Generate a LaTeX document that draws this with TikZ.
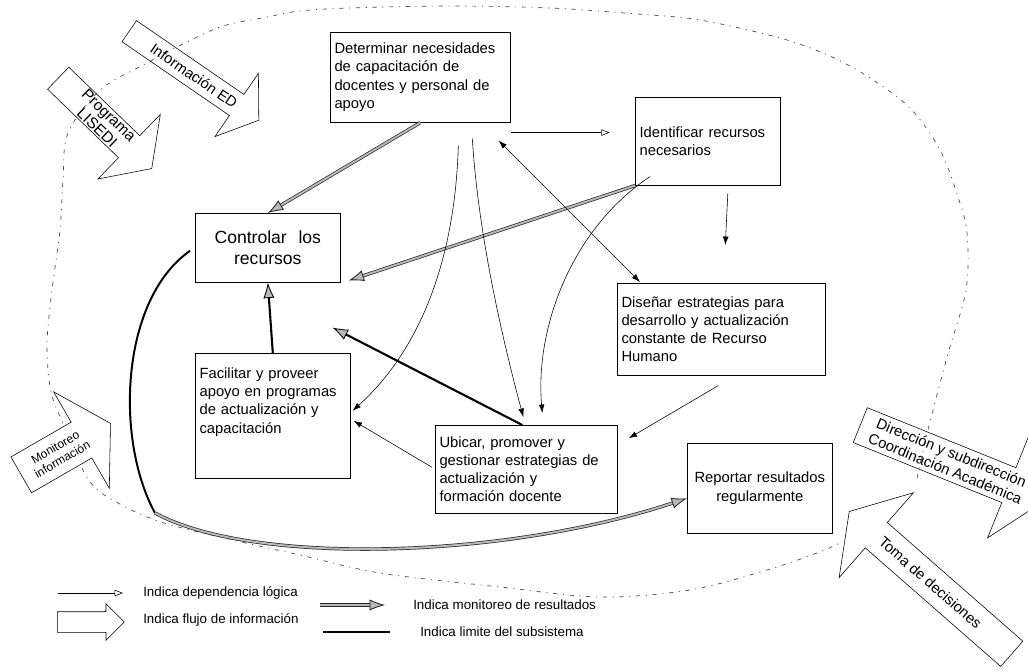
\documentclass[tikz,border=0pt]{standalone}
\usepackage{fontspec}
\setmainfont{Liberation Sans}
\usetikzlibrary{arrows.meta,shapes.arrows,calc}
\newcommand{\cajafont}{\fontsize{10.5}{13}\selectfont}
\newcommand{\grandefont}{\fontsize{12.5}{15}\selectfont}
\newcommand{\flujofont}{\fontsize{10.5}{12}\selectfont}
\newcommand{\progfont}{\fontsize{11}{12}\selectfont}
\newcommand{\monifont}{\fontsize{8.5}{10}\selectfont}
\newcommand{\leyendafont}{\fontsize{9.5}{11}\selectfont}
\tikzset{
caja/.style={draw, thin, anchor=north west, align=left, inner xsep=3pt,
	inner ysep=0pt, font=\cajafont},
dep/.style={thin, -{Triangle[open, length=6pt, width=4.5pt]}},
flecha/.style={thin, -{Latex[length=6pt, width=4pt]}},
ambas/.style={thin, {Latex[length=6pt, width=4pt]}-{Latex[length=6pt, width=4pt]}},
monitor/.style={draw=black!85, line width=0.5pt, double=gray!55,
	double distance=1.4pt, -{Latex[length=11pt, width=8pt, fill=gray!55, line width=0.6pt]}},
grueso/.style={line width=1.5pt, -{Latex[length=11pt, width=8pt, fill=gray!55, line width=0.6pt]}},
limite/.style={gray!60!black, line width=0.5pt, dash pattern=on 3pt off 4pt on 0.8pt off 4pt},
flujo/.style={single arrow, draw, thin, anchor=tail, inner xsep=0pt,
	minimum width=0pt, single arrow tip angle=110},
flujotexto/.style={font=\flujofont, align=center, inner sep=0pt},
leyenda/.style={anchor=west, font=\leyendafont, inner sep=0pt}
}

\begin{document}
\begin{tikzpicture}[x=0.025cm, y=-0.025cm]
\path[use as bounding box, clip] (0,0) rectangle (1028,672);

\draw[limite] plot[smooth, tension=0.55] coordinates {(917,478) (928,430)
	(947,357) (966,290) (967,233) (958,197) (940,150) (910,108) (870,78)
	(830,56) (780,38) (700,20) (637,14) (550,8) (450,6) (350,8) (300,11)
	(267,17) (223,26) (187,42) (147,63) (100,90) (68,133) (63,180) (60,230)
	(52,290) (47,345) (51,392) (63,423)};
\draw[limite] plot[smooth, tension=0.55] coordinates {(82,468) (100,492)
	(155,520) (233,540) (300,555) (380,573) (500,587) (600,597) (690,590)
	(767,570) (817,553) (840,543)};

\node[caja, minimum width=4.5cm, minimum height=2.25cm, text width=4.29cm] (det)
	at (330,32) {Determinar necesidades\\ de capacitación de\\ docentes y personal de\\ apoyo};
\node[caja, minimum width=3.625cm, minimum height=2.2cm, text width=3.41cm] (ide)
	at (635,97) {Identificar recursos\\ necesarios};
\node[caja, font=\grandefont, align=center, minimum width=3.625cm,
	minimum height=1.725cm, text width=3.41cm] (con)
	at (195,213) {Controlar\ \ los\\ recursos};
\node[caja, minimum width=3.875cm, minimum height=3.125cm, text width=3.66cm] (fac)
	at (195,353) {Facilitar y proveer\\ apoyo en programas\\ de actualización y\\ capacitación\\[9pt]\mbox{}};
\node[caja, minimum width=5.2cm, minimum height=2.3cm, text width=4.99cm] (dis)
	at (617,283) {Diseñar estrategias para\\ desarrollo y actualización\\ constante de Recurso\\ Humano};
\node[caja, minimum width=4.55cm, minimum height=2.2cm, text width=4.34cm] (ubi)
	at (435,425) {Ubicar, promover y\\ gestionar estrategias de\\ actualización y\\ formación docente};
\node[caja, align=center, minimum width=3.625cm, minimum height=2.25cm,
	text width=3.41cm] (rep) at (687,443) {Reportar resultados\\ regularmente};

\node[flujo, rotate=-34.5, minimum height=3.93cm, inner ysep=0.3125cm,
	single arrow head extend=0.64cm] (infoED) at (129,31) {};
\node[flujotexto, rotate=-34.5] (infoEDt) at ($(infoED.tail)!0.5!(infoED.tip)$) {Información ED};
\node[flujo, rotate=-44, minimum height=3.25cm, inner ysep=0.375cm,
	single arrow head extend=0.74cm] (prog) at (58,78) {};
\node[flujotexto, font=\progfont, rotate=-44] (progt)
	at ($(prog.tail)!0.48!(prog.tip)$) {Programa\\ LISEDI};
\node[flujo, rotate=30, minimum height=2.575cm, inner ysep=0.51cm,
	single arrow head extend=0.875cm, single arrow tip angle=118] (moni) at (21,475) {};
\node[flujotexto, font=\monifont, rotate=30] (monit)
	at ($(moni.tail)!0.42!(moni.tip)$) {Monitoreo\\ información};
\node[flujo, rotate=-22, minimum height=5cm, inner ysep=0.4625cm,
	single arrow head extend=0.95cm] (dir) at (860,425) {};
\node[flujotexto, rotate=-22] (dirt) at ($(dir.tail)!0.475!(dir.tip)$)
	{Dirección y subdirección\\ Coordinación Académica};
\node[flujo, rotate=138.8, minimum height=5.4cm, inner ysep=0.4125cm,
	single arrow head extend=0.99cm, single arrow tip angle=115] (toma) at (1012,654) {};
\node[flujotexto, rotate=-41.2] (tomat) at ($(toma.tail)!0.5!(toma.tip)$) {Toma de decisiones};

\coordinate (d1) at ($(det.south east)+(0,10)$);
\draw[dep, shorten >=18pt] (d1) -- (d1 -| ide.west);
\draw[monitor] (det.south) -- (con.north);
\draw[monitor] (ide.south west) -- ($(con.south east)+(8,-2)$);
\draw[flecha] ($(ide.south)+(20,8)$) -- ($(dis.north)+(4,-38)$);
\draw[ambas] ($(det.south east)+(-12,18)$) -- ($(dis.north west)+(23,-1)$);
\draw[flecha] ($(det.south)+(38,23)$) .. controls (455,260) and (420,350) .. ($(fac.east)+(2,-5)$);
\draw[flecha] ($(det.south)+(52,16)$) .. controls (478,230) and (500,330) .. ($(ubi.north)+(-3,-8)$);
\draw[flecha] ($(ide.south west)+(15,-9)$) .. controls (570,230) and (535,330) .. ($(ubi.north)+(16,-12)$);
\coordinate (u1) at ($(con.south east)+(-8,45)$);
\draw[grueso] ($(ubi.north)+(-4,0)$) -- (u1);
\draw[grueso] (fac.north) -- (con.south);
\draw[flecha] ($(ubi.west)+(-3,-2)$) -- ($(fac.east)+(3,5)$);
\draw[flecha] ($(dis.south)+(-3,10)$) -- ($(ubi.east)+(11,-31)$);
\coordinate (c1) at ($(con.west)+(-5,3)$);
\coordinate (c2) at (155,513);
\draw[line width=1.4pt] (c1) .. controls (120,300) and (115,440) .. (c2);
\draw[monitor] (c2) .. controls (250,565) and (500,560) .. ($(rep.west)+(0,10)$);

\coordinate (l1) at (58,593);
\node[leyenda] (ley1) at (143,593) {Indica dependencia lógica};
\draw[dep] (l1) -- ($(ley1.west)+(-20,0)$);
\node[flujo, minimum height=1.675cm, inner ysep=0.25cm, single arrow head extend=0.2cm,
	single arrow tip angle=90] (leyflujo) at (57,622) {};
\node[leyenda] (ley2) at (143,620) {Indica flujo de información};
\coordinate (l3) at (320,605);
\node[leyenda] (ley3) at (413,605) {Indica monitoreo de resultados};
\draw[monitor] (l3) -- ($(ley3.west)+(-28,0)$);
\coordinate (l4) at (323,632);
\node[leyenda] (ley4) at (420,632) {Indica limite del subsistema};
\draw[line width=0.8pt] (l4) -- ($(ley4.west)+(-30,0)$);
\end{tikzpicture}
\end{document}
